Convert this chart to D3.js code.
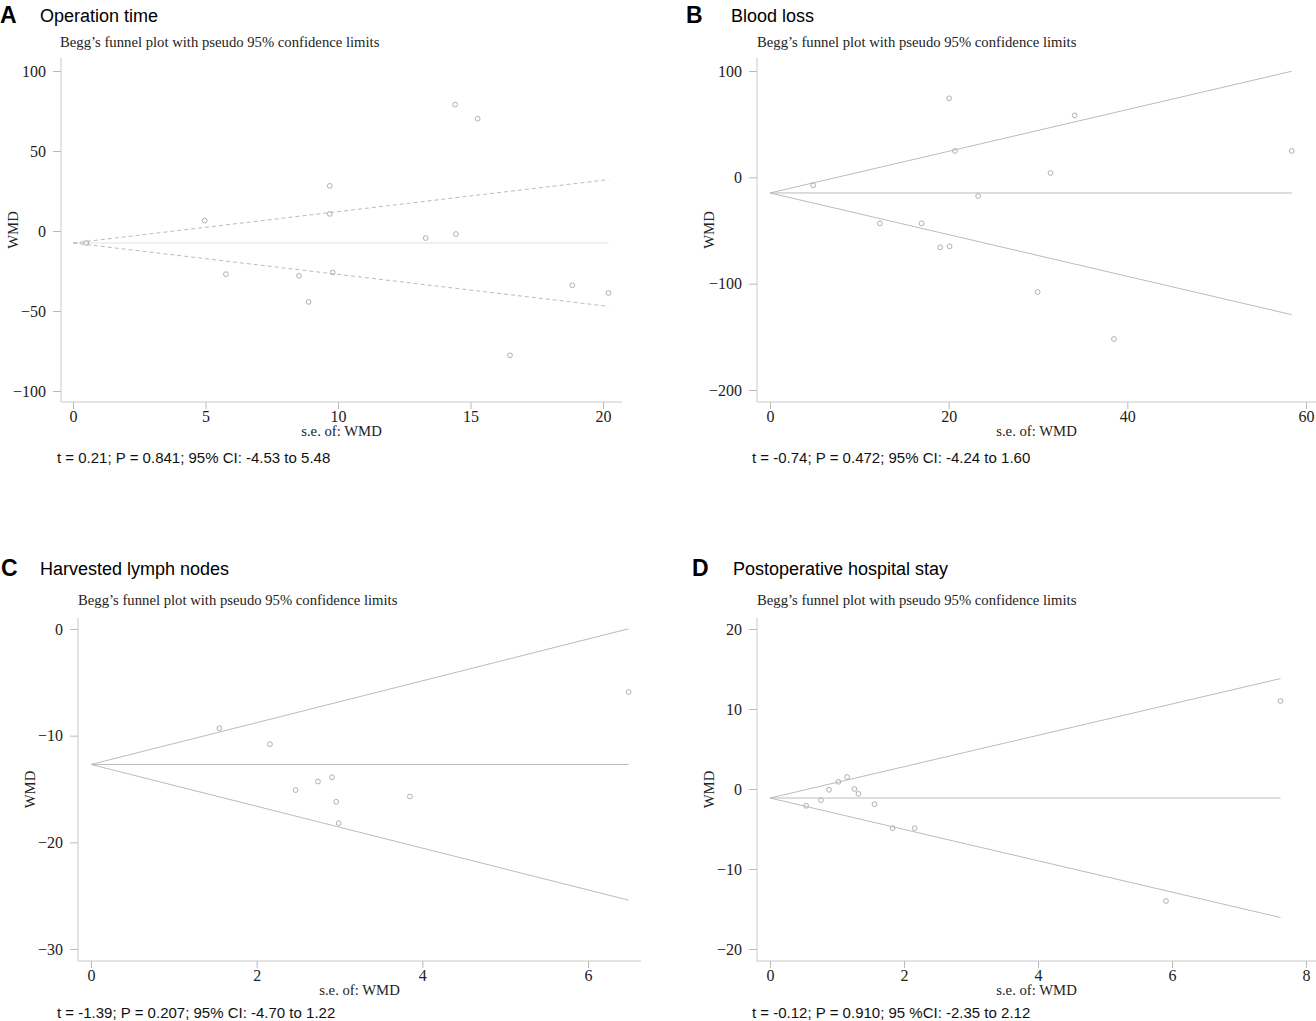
<!DOCTYPE html>
<html>
<head>
<meta charset="utf-8">
<script src="https://cdnjs.cloudflare.com/ajax/libs/d3/7.8.5/d3.min.js"></script>
<style>
	body { margin: 0; background: #fff; }
	.tick text { font-family: "Liberation Serif", "Times New Roman", serif; font-size: 16px; fill: #222; }
	.tick line { stroke: #bbb; }
</style>
</head>
<body>
<svg width="1316" height="1021"></svg>
<script>
// values
var seA = [0.5, 4.97, 5.77, 9.69, 9.69, 8.53, 8.89, 9.8, 13.31, 14.42, 14.45, 15.27, 16.49, 18.84, 20.21];
var wmdA = [-7.5, 6.5, -27, 28.2, 10.7, -28, -44.3, -25.9, -4.4, 79, -1.9, 70.2, -77.7, -33.9, -38.7];
var seB = [4.83, 12.3, 16.97, 19.05, 20.1, 20.05, 20.7, 23.3, 31.4, 34.1, 29.96, 38.5, 58.4];
var wmdB = [-7.5, -43.3, -43.3, -65.8, -64.9, 74.3, 24.8, -17.6, 4.1, 58.3, -107.8, -152, 24.8];
var seC = [1.55, 2.16, 2.47, 2.74, 2.91, 2.96, 2.99, 3.85, 6.49];
var wmdC = [-9.3, -10.8, -15.1, -14.3, -13.9, -16.2, -18.2, -15.7, -5.9];
var seD = [0.54, 0.76, 0.88, 1.02, 1.15, 1.26, 1.32, 1.56, 1.83, 2.16, 5.91, 7.62];
var wmdD = [-2.1, -1.4, -0.1, 0.9, 1.5, 0, -0.6, -1.9, -4.9, -4.9, -14.0, 11.0];

var pooled = [-7.5, -14.7, -12.7, -1.13];
var letters = ["A", "B", "C", "D"];
var titles = ["Operation time", "Blood loss", "Harvested lymph nodes", "Postoperative hospital stay"];
var stats = [
	"t = 0.21; P = 0.841; 95% CI: -4.53 to 5.48",
	"t = -0.74; P = 0.472; 95% CI: -4.24 to 1.60",
	"t = -1.39; P = 0.207; 95% CI: -4.70 to 1.22",
	"t = -0.12; P = 0.910; 95 %CI: -2.35 to 2.12"
];
var xTicks = [[0, 5, 10, 15, 20], [0, 20, 40, 60], [0, 2, 4, 6], [0, 2, 4, 6, 8]];
var yTicks = [[-100, -50, 0, 50, 100], [-200, -100, 0, 100], [-30, -20, -10, 0], [-20, -10, 0, 10, 20]];
var subtitle = "Begg\u2019s funnel plot with pseudo 95% confidence limits";

var svg = d3.select("svg");

// layout of each panel
var layout = [
	{lx: 0, tx: 40, sx: 60, ax: 61, ay0: 58, ay1: 402, axR: 622, x0: 73, x1: 603, y0: 391, y1: 71, titleY: 23, subY: 47, xlabY: 436, statX: 57, statY: 463, dashed: true},
	{lx: 686, tx: 731, sx: 757, ax: 757, ay0: 58, ay1: 402, axR: 1316, x0: 770, x1: 1306, y0: 390, y1: 71, titleY: 23, subY: 47, xlabY: 436, statX: 752, statY: 463, dashed: false},
	{lx: 1, tx: 40, sx: 78, ax: 78, ay0: 618, ay1: 961, axR: 641, x0: 91, x1: 588, y0: 949, y1: 629, titleY: 576, subY: 605, xlabY: 995, statX: 57, statY: 1018, dashed: false},
	{lx: 692, tx: 733, sx: 757, ax: 757, ay0: 618, ay1: 961, axR: 1316, x0: 770, x1: 1306, y0: 949, y1: 629, titleY: 576, subY: 605, xlabY: 995, statX: 752, statY: 1018, dashed: false}
];

var seAll = [seA, seB, seC, seD];
var wmdAll = [wmdA, wmdB, wmdC, wmdD];

var serif = "Liberation Serif, Times New Roman, serif";
var sans = "Liberation Sans, Arial, sans-serif";

function drawPanel(i){
	var L = layout[i];
	var xt = xTicks[i], yt = yTicks[i];
	var x = d3.scaleLinear().domain([xt[0], xt[xt.length-1]]).range([L.x0, L.x1]);
	var y = d3.scaleLinear().domain([yt[0], yt[yt.length-1]]).range([L.y0, L.y1]);
	var g = svg.append("g");

	g.append("text").attr("x", L.lx).attr("y", L.titleY)
		.style("font-family", sans).style("font-weight", "bold").style("font-size", "23px")
		.text(letters[i]);
	g.append("text").attr("x", L.tx).attr("y", L.titleY - 1)
		.style("font-family", sans).style("font-size", "18px")
		.text(titles[i]);
	g.append("text").attr("x", L.sx).attr("y", L.subY)
		.style("font-family", serif).style("font-size", "14.7px").style("fill", "#222")
		.text(subtitle);

	// axes
	g.append("line").attr("x1", L.ax).attr("x2", L.ax).attr("y1", L.ay0).attr("y2", L.ay1)
		.style("stroke", "#c8c8c8");
	g.append("line").attr("x1", L.ax).attr("x2", L.axR).attr("y1", L.ay1).attr("y2", L.ay1)
		.style("stroke", "#c8c8c8");

	var ya = g.append("g").attr("transform", "translate(" + L.ax + ",0)")
		.call(d3.axisLeft(y).tickValues(yt).tickSize(8).tickPadding(7));
	ya.select(".domain").remove();
	ya.selectAll(".tick text").text(function(d){ return d < 0 ? "\u2212" + Math.abs(d) : d; });

	var xa = g.append("g").attr("transform", "translate(0," + L.ay1 + ")")
		.call(d3.axisBottom(x).tickValues(xt).tickSize(7).tickPadding(2).tickFormat(d3.format("d")));
	xa.select(".domain").remove();

	g.append("text").attr("x", (L.ax + L.axR) / 2).attr("y", L.xlabY).attr("text-anchor", "middle")
		.style("font-family", serif).style("font-size", "14.7px").style("fill", "#222")
		.text("s.e. of: WMD");
	g.append("text").attr("transform", "translate(" + (L.ax - 43) + "," + ((L.ay0 + L.ay1) / 2) + ") rotate(-90)")
		.attr("text-anchor", "middle")
		.style("font-family", serif).style("font-size", "14.7px").style("fill", "#222")
		.text("WMD");
	g.append("text").attr("x", L.statX).attr("y", L.statY)
		.style("font-family", sans).style("font-size", "15px").style("fill", "#111")
		.text(stats[i]);

	// funnel
	var se = seAll[i], wmd = wmdAll[i];
	var theta = pooled[i];
	var seMax = d3.max(se);
	g.append("line").attr("x1", x(0)).attr("x2", x(seMax)).attr("y1", y(theta)).attr("y2", y(theta))
		.style("stroke", L.dashed ? "#e2e2e2" : "#bcbcbc");
	[1.96, -1.96].forEach(function(z){
		g.append("line").attr("x1", x(0)).attr("x2", x(seMax))
			.attr("y1", y(theta)).attr("y2", y(theta + z * seMax))
			.style("stroke", "#bcbcbc")
			.style("stroke-dasharray", L.dashed ? "4,3" : null);
	});

	g.selectAll(".pt").data(d3.range(se.length)).enter().append("circle")
		.attr("class", "pt")
		.attr("cx", function(d){ return x(se[d]); })
		.attr("cy", function(d){ return y(wmd[d]); })
		.attr("r", 2.4)
		.style("fill", "none")
		.style("stroke", "#b0b0b0");
}

for(var i=0; i<4; i++){
	drawPanel(i);
}
</script>
</body>
</html>
